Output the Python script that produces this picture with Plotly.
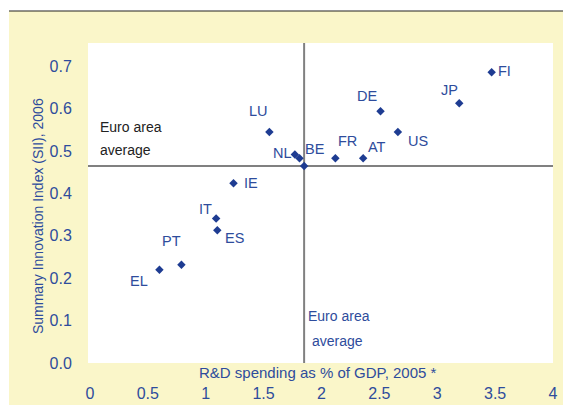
import plotly.graph_objects as go

# Data
countries = ["FI", "JP", "DE", "US", "LU", "NL", "BE", "FR", "AT", "IE", "IT", "ES", "PT", "EL"]
rd_spending = [3.47, 3.19, 2.51, 2.66, 1.55, 1.77, 1.81, 2.12, 2.36, 1.24, 1.09, 1.10, 0.79, 0.60]
sii_2006 = [0.686, 0.613, 0.594, 0.545, 0.545, 0.492, 0.483, 0.483, 0.483, 0.424, 0.341, 0.313, 0.232, 0.220]
euro_area_rd = 1.85
euro_area_sii = 0.465

x_ticks = [0, 0.5, 1, 1.5, 2, 2.5, 3, 3.5, 4]
x_tick_labels = ["0", "0.5", "1", "1.5", "2", "2.5", "3", "3.5", "4"]
y_ticks = [0, 0.1, 0.2, 0.3, 0.4, 0.5, 0.6, 0.7]
y_tick_labels = ["0.0", "0.1", "0.2", "0.3", "0.4", "0.5", "0.6", "0.7"]

# label offsets (px) for each country label
label_shift = {
    "FI": (13, 1.5), "JP": (-9.5, 13.5), "DE": (-13.5, 15), "US": (20, -9),
    "LU": (-11, 21.5), "NL": (-12.5, 1.5), "BE": (16, 9.5), "FR": (12, 17),
    "AT": (13.5, 11), "IE": (17.5, 0), "IT": (-10.5, 9.5), "ES": (17, -7.5),
    "PT": (-10, 24), "EL": (-20, -11.5),
}

FONT = "Liberation Sans, Arial, sans-serif"
BLUE_TXT = "#2E4C9C"
BLUE_MK = "#1E3C92"
YELLOW = "#FAF6C9"
LABEL_SIZE = 14.5

fig = go.Figure()
fig.add_trace(go.Scatter(
    x=rd_spending + [euro_area_rd], y=sii_2006 + [euro_area_sii],
    mode="markers",
    marker=dict(symbol="diamond", size=6.5, color=BLUE_MK),
    hoverinfo="skip", showlegend=False,
))

annotations = []
for c, xv, yv in zip(countries, rd_spending, sii_2006):
    dx, dy = label_shift[c]
    annotations.append(dict(x=xv, y=yv, xref="x", yref="y", text=c, showarrow=False,
                            xshift=dx, yshift=dy, font=dict(family=FONT, size=LABEL_SIZE, color=BLUE_TXT)))

# Euro area average labels
annotations += [
    dict(x=0.07, y=0.558, xref="x", yref="y", text="Euro area", showarrow=False, xanchor="left",
         font=dict(family=FONT, size=14, color="#222222")),
    dict(x=0.07, y=0.503, xref="x", yref="y", text="average", showarrow=False, xanchor="left",
         font=dict(family=FONT, size=14, color="#222222")),
    dict(x=1.87, y=0.11, xref="x", yref="y", text="Euro area", showarrow=False, xanchor="left",
         font=dict(family=FONT, size=14, color=BLUE_TXT)),
    dict(x=1.905, y=0.052, xref="x", yref="y", text="average", showarrow=False, xanchor="left",
         font=dict(family=FONT, size=14, color=BLUE_TXT)),
    # axis titles
    dict(x=0.495, y=-0.03, xref="paper", yref="paper", text="R&D spending as % of GDP, 2005 *",
         showarrow=False, xanchor="center", yanchor="middle",
         font=dict(family=FONT, size=15, color=BLUE_TXT)),
    dict(x=-0.109, y=0.46, xref="paper", yref="paper", text="Summary Innovation Index (SII), 2006",
         showarrow=False, textangle=-90, xanchor="center", yanchor="middle",
         font=dict(family=FONT, size=14, color=BLUE_TXT)),
]

shapes = [
    # white strips outside the yellow panel
    dict(type="rect", xref="paper", yref="paper", x0=-0.2, x1=1.05, y0=1.1, y1=1.2,
         fillcolor="white", line=dict(width=0), layer="below"),
    dict(type="rect", xref="paper", yref="paper", x0=-0.2, x1=-0.1699, y0=-0.2, y1=1.2,
         fillcolor="white", line=dict(width=0), layer="below"),
    dict(type="line", xref="paper", yref="paper", x0=-0.1699, x1=1.05, y0=1.1, y1=1.1,
         line=dict(color="#222222", width=1.2)),
    # euro area average lines
    dict(type="line", xref="x", yref="paper", x0=euro_area_rd, x1=euro_area_rd, y0=0, y1=1,
         line=dict(color="#808080", width=2), layer="below"),
    dict(type="line", xref="paper", yref="y", x0=0, x1=1, y0=euro_area_sii, y1=euro_area_sii,
         line=dict(color="#808080", width=2), layer="below"),
]

# the page body adds an 8px margin, so the figure is 8px smaller and margins reduced by 8
fig.update_layout(
    width=563, height=397,
    margin=dict(l=80, r=18, t=35, b=42, autoexpand=False),
    paper_bgcolor=YELLOW, plot_bgcolor="white",
    font=dict(family=FONT, color=BLUE_TXT),
    annotations=annotations, shapes=shapes,
    xaxis=dict(range=[-0.017, 4.0], tickvals=x_ticks, ticktext=x_tick_labels,
               showgrid=False, zeroline=False, showline=False,
               ticks="outside", ticklen=16, tickcolor="rgba(0,0,0,0)",
               tickfont=dict(family=FONT, size=16, color=BLUE_TXT)),
    yaxis=dict(range=[0, 0.755], tickvals=y_ticks, ticktext=y_tick_labels,
               showgrid=False, zeroline=False, showline=False,
               ticks="outside", ticklen=12, tickcolor="rgba(0,0,0,0)",
               tickfont=dict(family=FONT, size=16, color=BLUE_TXT)),
)

fig.write_html("out.html")
